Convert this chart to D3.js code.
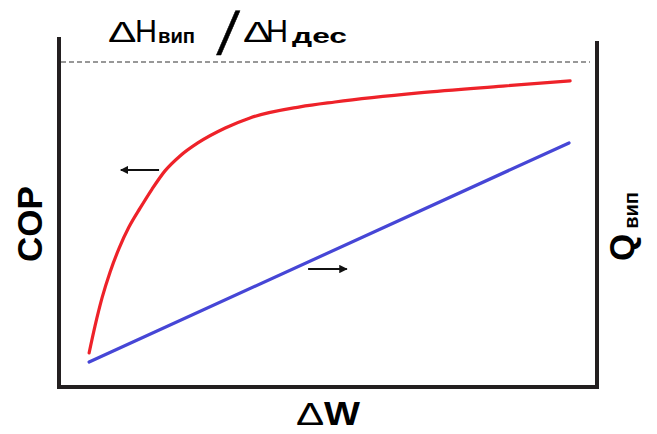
<!DOCTYPE html>
<html>
<head>
<meta charset="utf-8">
<script src="https://cdn.jsdelivr.net/npm/d3@7"></script>
<style>
  html, body { margin: 0; padding: 0; background: #fff; }
  svg { display: block; font-family: "Liberation Sans", Arial, sans-serif; }
  .sym { font-family: "DejaVu Sans", sans-serif; }
</style>
</head>
<body>
<svg id="chart" width="657" height="434"></svg>
<script>
// ΔW on the x axis (0..10), COP on the left (0..1, 1 = ΔHвип/ΔHдес limit), Qвип on the right
const copW   = [0.56, 0.67, 0.80, 0.95, 1.12, 1.30, 1.51, 1.73, 1.97, 2.25, 2.58, 3.09, 3.55, 4.48, 5.13, 6.69, 8.25, 9.50];
const copVal = [0.105, 0.188, 0.274, 0.354, 0.428, 0.492, 0.551, 0.609, 0.665, 0.711, 0.751, 0.797, 0.828, 0.862, 0.877, 0.905, 0.926, 0.942];
const qW     = [0.56, 9.48];
const qVal   = [0.077, 0.751];
const enthalpyLimit = 1.0;
// arrows pointing each curve to its own axis
const copArrow = { from: 1.86, to: 1.15, level: 0.668 };
const qArrow   = { from: 4.63, to: 5.35, level: 0.363 };

const svg = d3.select("#chart");
const x  = d3.scaleLinear().domain([0, 10]).range([59, 597]);
const yL = d3.scaleLinear().domain([0, 1]).range([387, 62]);
const yR = d3.scaleLinear().domain([0, 1]).range([387, 62]);

const defs = svg.append("defs");
defs.append("marker")
  .attr("id", "head").attr("viewBox", "0 0 10 10")
  .attr("refX", 9).attr("refY", 5)
  .attr("markerWidth", 4.2).attr("markerHeight", 4.2)
  .attr("markerUnits", "strokeWidth")
  .attr("orient", "auto")
  .append("path").attr("d", "M0,0 L10,5 L0,10 Z").attr("fill", "#111");

// frame: left, bottom and right axes
const axisColor = "#231f20";
const frame = svg.append("g").attr("stroke", axisColor).attr("stroke-width", 4).attr("fill", "none");
frame.append("line").attr("x1", x(0)).attr("x2", x(0)).attr("y1", yL(1.077)).attr("y2", yL(0) + 2);
frame.append("line").attr("x1", x(10)).attr("x2", x(10)).attr("y1", yR(1.065)).attr("y2", yR(0) + 2);
frame.append("line").attr("x1", x(0) - 2).attr("x2", x(10) + 2).attr("y1", yL(0)).attr("y2", yL(0));

// ΔHвип/ΔHдес limit
svg.append("line")
  .attr("x1", x(0) + 2).attr("x2", x(9.87))
  .attr("y1", yL(enthalpyLimit)).attr("y2", yL(enthalpyLimit))
  .attr("stroke", "#333").attr("stroke-width", 1.2)
  .attr("stroke-dasharray", "5,3");

// COP curve
const copLine = d3.line().x(d => x(d[0])).y(d => yL(d[1])).curve(d3.curveMonotoneX);
svg.append("path")
  .datum(d3.zip(copW, copVal))
  .attr("d", copLine)
  .attr("fill", "none").attr("stroke", "#ee2229").attr("stroke-width", 3.2)
  .attr("stroke-linecap", "round");

// Qвип line
const qLine = d3.line().x(d => x(d[0])).y(d => yR(d[1]));
svg.append("path")
  .datum(d3.zip(qW, qVal))
  .attr("d", qLine)
  .attr("fill", "none").attr("stroke", "#4646d6").attr("stroke-width", 3.2)
  .attr("stroke-linecap", "round");

// arrows
svg.append("line")
  .attr("x1", x(copArrow.from)).attr("x2", x(copArrow.to))
  .attr("y1", yL(copArrow.level)).attr("y2", yL(copArrow.level))
  .attr("stroke", "#111").attr("stroke-width", 2)
  .attr("marker-end", "url(#head)");
svg.append("line")
  .attr("x1", x(qArrow.from)).attr("x2", x(qArrow.to))
  .attr("y1", yR(qArrow.level)).attr("y2", yR(qArrow.level))
  .attr("stroke", "#111").attr("stroke-width", 2)
  .attr("marker-end", "url(#head)");

// title ΔHвип / ΔHдес (Δ glyphs widened to the height of H, advance tightened)
const title = svg.append("g").attr("fill", "#000");
title.append("text").attr("transform", "translate(108,42) scale(1.42,1)")
  .attr("font-size", 30).attr("letter-spacing", -6).text("Δ");
title.append("text").attr("x", 135).attr("y", 42).attr("font-size", 30.5).text("H");
title.append("text").attr("x", 158).attr("y", 43).attr("font-size", 20).attr("font-weight", "bold")
  .attr("textLength", 37).attr("lengthAdjust", "spacingAndGlyphs").text("вип");
title.append("text").attr("class", "sym").attr("transform", "translate(217,50) skewX(-7)")
  .attr("font-size", 54).attr("stroke", "#000").attr("stroke-width", 0.5).text("/");
title.append("text").attr("transform", "translate(243,42) scale(1.42,1)")
  .attr("font-size", 30).attr("letter-spacing", -6).text("Δ");
title.append("text").attr("x", 266).attr("y", 42).attr("font-size", 30.5).text("H");
title.append("text").attr("x", 292).attr("y", 43).attr("font-size", 20).attr("font-weight", "bold")
  .attr("textLength", 55).attr("lengthAdjust", "spacingAndGlyphs").text("дес");

// left axis title
svg.append("text")
  .attr("transform", "translate(42,224) rotate(-90)")
  .attr("text-anchor", "middle")
  .attr("font-size", 35).attr("font-weight", "bold")
  .text("COP");

// right axis title
const qTitle = svg.append("text")
  .attr("transform", "translate(634,261) rotate(-90)")
  .attr("font-weight", "bold");
qTitle.append("tspan").attr("font-size", 35).text("Q");
qTitle.append("tspan").attr("font-size", 20).attr("dx", 5).attr("dy", 4).text("вип");

// x axis title
svg.append("text").attr("transform", "translate(296,425) scale(1.32,1)")
  .attr("font-size", 32).attr("letter-spacing", -5).text("Δ");
svg.append("text").attr("x", 324).attr("y", 425).attr("font-size", 33).attr("font-weight", "bold")
  .attr("textLength", 36).attr("lengthAdjust", "spacingAndGlyphs").text("W");
</script>
</body>
</html>
